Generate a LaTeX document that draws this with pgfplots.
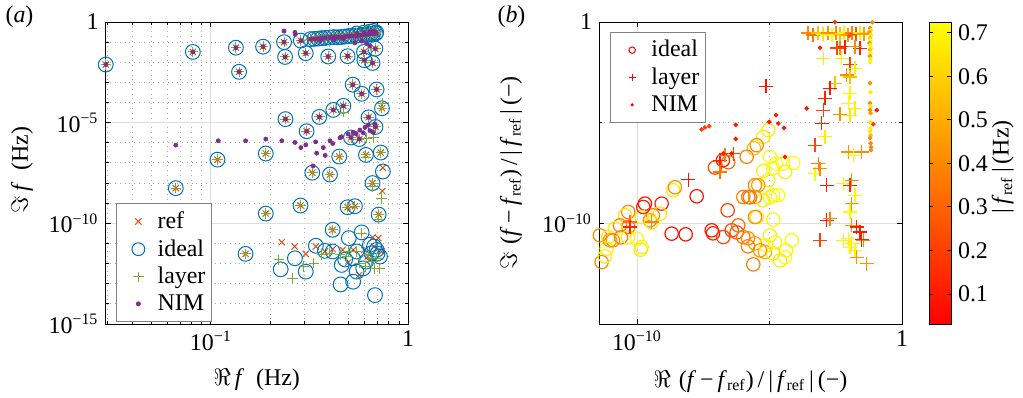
\documentclass[border=0pt]{standalone}
\usepackage{fontspec}
\setmainfont{Liberation Serif}
\usepackage{pgfplots}
\usepackage{pgfplotstable}
\pgfplotsset{compat=1.18}
\definecolor{mblue}{RGB}{0,114,189}
\definecolor{morange}{RGB}{217,83,25}
\definecolor{mgreen}{RGB}{119,172,48}
\definecolor{mpurple}{RGB}{126,47,142}
\definecolor{gridgray}{RGB}{222,222,222}
\definecolor{mingray}{RGB}{170,170,170}
\definecolor{leggray}{RGB}{130,130,130}

% ---------- panel (a) ----------
\pgfplotstableread[row sep=\\]{
x y \\
0.0293 7.7e-3 \\ 0.081 3.27e-2 \\ 0.134 5.3e-2 \\ 0.139 3.35e-3 \\ 0.184 5.96e-2 \\
0.235 0.1 \\ 0.238 1.84e-2 \\ 0.286 0.119 \\ 0.303 2.82e-2 \\ 0.394 1.93e-2 \\
0.494 2.0e-2 \\ 0.598 3.27e-2 \\ 0.683 4.73e-2 \\ 0.601 1.26e-2 \\ 0.661 9.2e-3 \\
0.524 7.7e-4 \\ 0.582 2.72e-4 \\ 0.693 4.47e-4 \\ 0.470 6.8e-5 \\ 0.418 4.3e-5 \\
0.355 1.93e-5 \\ 0.239 1.5e-5 \\ 0.631 1.84e-5 \\ 0.306 3.76e-6 \\ 0.684 6.1e-6 \\
0.514 1.84e-6 \\ 0.566 1.53e-6 \\
0.32 0.141 \\ 0.335 0.145 \\ 0.35 0.15 \\ 0.365 0.158 \\ 0.38 0.162 \\ 0.40 0.17 \\
0.42 0.178 \\ 0.44 0.175 \\ 0.46 0.18 \\ 0.48 0.19 \\ 0.50 0.2 \\ 0.52 0.205 \\
0.545 0.21 \\ 0.57 0.22 \\ 0.595 0.235 \\ 0.62 0.24 \\ 0.645 0.25 \\ 0.665 0.26 \\
0.685 0.27 \\ 0.60 0.3 \\ 0.64 0.33 \\ 0.67 0.36 \\ 0.69 0.3 \\ 0.55 0.27 \\
}\starsA
\pgfplotstableread[row sep=\\]{
x y \\
0.738 5.2e-5 \\ 0.190 2.92e-7 \\ 0.108 1.46e-7 \\ 0.448 2.07e-7 \\ 0.612 2.5e-7 \\
0.728 3.27e-7 \\ 0.327 3.27e-8 \\ 0.402 2.66e-8 \\ 0.661 1e-8 \\ 0.0664 5.6e-9 \\
0.19 3.05e-10 \\ 0.285 7.7e-10 \\ 0.494 6.3e-10 \\ 0.538 7.1e-10 \\ 0.71 2.72e-10 \\
0.415 4.8e-11 \\ 0.15 3.05e-12 \\
}\starsB
\pgfplotstableread[row sep=\\]{
x y \\
0.229 1.16e-11 \\ 0.266 7.1e-12 \\ 0.303 3.05e-12 \\ 0.341 7.1e-12 \\ 0.379 4e-12 \\
0.415 5.2e-12 \\ 0.467 4.8e-12 \\ 0.497 1.12e-12 \\ 0.527 4.8e-12 \\ 0.566 2.72e-13 \\
0.600 4.8e-12 \\ 0.626 2.24e-12 \\ 0.662 2e-11 \\ 0.707 1.84e-11 \\ 0.673 7.1e-12 \\
0.735 4e-12 \\ 0.641 1.53e-12 \\ 0.746 5.8e-8 \\ 0.741 4e-9 \\
}\refonly
\pgfplotstableread[row sep=\\]{
x y \\
0.226 5.2e-13 \\ 0.267 1.84e-12 \\ 0.303 4e-13 \\ 0.341 7.7e-12 \\ 0.379 4.3e-12 \\
0.415 4e-12 \\ 0.461 8.6e-13 \\ 0.455 9.2e-14 \\ 0.501 1.84e-11 \\ 0.527 1.26e-13 \\
0.549 4e-12 \\ 0.582 3.55e-11 \\ 0.593 5.8e-13 \\ 0.612 1.26e-12 \\ 0.641 8.6e-12 \\
0.654 3.27e-12 \\ 0.680 2.72e-14 \\ 0.693 4.8e-12 \\ 0.721 2.24e-12 \\ 0.673 7.1e-12 \\
0.700 3.16e-12 \\ 0.549 4e-13 \\ 0.525 1.84e-12 \\ 0.480 1.6e-12 \\ 0.746 3.76e-8 \\
}\idealonly
\pgfplotstableread[row sep=\\]{
x y \\
0.221 1.53e-12 \\ 0.260 1.84e-13 \\ 0.296 7.1e-13 \\ 0.333 1.04e-12 \\ 0.365 2.72e-12 \\
0.402 3.27e-12 \\ 0.452 2.72e-12 \\ 0.489 2.24e-12 \\ 0.501 4e-12 \\ 0.545 4e-12 \\
0.582 3.27e-11 \\ 0.570 1.04e-12 \\ 0.606 7.1e-13 \\ 0.630 2.72e-12 \\ 0.654 1.26e-12 \\
0.693 1.84e-12 \\ 0.721 5.8e-13 \\ 0.680 5.8e-13 \\ 0.735 1.7e-9 \\
0.74 8.9e-5 \\ 0.47 3.3e-5 \\ 0.617 1.7e-6 \\ 0.667 1.84e-6 \\ 0.612 1.8e-7 \\
0.661 6.8e-9 \\ 0.71 1.6e-10 \\
}\layeronly
\pgfplotstableread[row sep=\\]{
x y \\
0.235 0.355 \\ 0.267 0.305 \\ 0.268 0.243 \\ 0.538 0.092 \\ 0.583 0.112 \\ 0.617 0.086 \\
0.641 0.065 \\ 0.36 0.12 \\ 0.42 0.13 \\ 0.47 0.14 \\
0.0664 7.7e-7 \\ 0.109 1.26e-6 \\ 0.150 1.26e-6 \\ 0.19 1.53e-6 \\ 0.229 1.26e-6 \\
0.267 1.04e-6 \\ 0.286 5.8e-7 \\ 0.303 7.9e-7 \\ 0.34 1.12e-6 \\ 0.344 3.05e-7 \\
0.372 5.8e-7 \\ 0.38 2.37e-7 \\ 0.402 1.26e-6 \\ 0.415 9.2e-7 \\ 0.452 1.78e-6 \\
0.46 2e-6 \\ 0.497 2.72e-6 \\ 0.527 3.27e-6 \\ 0.545 2.82e-6 \\ 0.57 4.3e-6 \\
0.593 3.16e-6 \\ 0.605 5.8e-6 \\ 0.629 7.7e-6 \\ 0.641 4e-6 \\ 0.667 3.27e-6 \\
0.68 8.6e-6 \\ 0.33 7.1e-8 \\
}\nimonly

% ---------- panel (b): x, y, |f_ref| ----------
\pgfplotstableread[row sep=\\]{
x y c \\
9.0e-6 4.24e-6 0.68 \\ 5.83e-6 1.97e-6 0.66 \\ 3.29e-6 7.6e-7 0.40 \\ 2.6e-6 5.38e-7 0.55 \\
1.38e-6 2.03e-7 0.38 \\ 1.04e-5 1.99e-7 0.70 \\ 1.76e-5 9.3e-8 0.72 \\ 3.32e-5 9.3e-8 0.70 \\
7.9e-5 1.0e-7 0.72 \\ 5.83e-6 4.0e-8 0.68 \\ 1.36e-5 5.45e-8 0.70 \\ 3.85e-5 3.56e-8 0.68 \\
8.8e-8 5.9e-8 0.22 \\ 2.79e-7 1.08e-7 0.32 \\ 1.76e-7 1.36e-7 0.10 \\ 9.0e-6 1.38e-8 0.68 \\
2.84e-6 7.8e-9 0.40 \\ 1.03e-6 2.03e-9 0.38 \\ 1.39e-5 2.47e-9 0.70 \\ 1.79e-8 2.2e-9 0.08 \\
2.34e-9 4.38e-9 0.66 \\ 2.72e-9 6.2e-9 0.42 \\ 2.0e-10 9.55e-10 0.08 \\ 8.55e-10 9.55e-10 0.10 \\
7.4e-10 3.04e-10 0.66 \\ 4.0e-10 2.5e-10 0.40 \\ 2.65e-7 4.43e-10 0.20 \\ 1.58e-6 2.03e-9 0.35 \\
2.84e-6 2.03e-9 0.42 \\ 3.29e-6 2.06e-10 0.65 \\ 3.78e-6 7.8e-9 0.45 \\ 2.04e-9 3.08e-11 0.08 \\
6.9e-9 2.84e-11 0.07 \\ 6.6e-8 4.49e-11 0.10 \\ 7.4e-8 3.18e-11 0.12 \\ 1.81e-7 2.08e-11 0.22 \\
3.75e-7 4.49e-11 0.22 \\ 6.65e-7 7.9e-11 0.32 \\ 5.8e-7 3.56e-11 0.25 \\ 1.03e-6 2.08e-11 0.35 \\
1.55e-6 1.8e-11 0.40 \\ 2.45e-6 9.1e-13 0.38 \\ 2.84e-6 1.01e-11 0.45 \\ 6.76e-6 3.73e-12 0.48 \\
1.04e-5 2.53e-11 0.68 \\ 1.61e-5 1.13e-11 0.70 \\ 2.49e-5 1.44e-12 0.66 \\ 3.85e-5 2.1e-12 0.72 \\
6.9e-5 1.43e-11 0.70 \\ 4.2e-5 4.54e-12 0.68 \\ 1.36e-5 3.2e-12 0.66 \\ 2.84e-6 2.06e-10 0.42 \\
1.39e-5 1.53e-10 0.70 \\ 5.69e-6 1.39e-9 0.66 \\ 1.04e-5 1.97e-9 0.70 \\ 2.1e-5 2.47e-9 0.70 \\
1.84e-6 1.97e-9 0.35 \\ 4.7e-11 3.65e-10 0.38 \\ 3.52e-11 2.5e-10 0.65 \\ 3.1e-10 1.41e-10 0.40 \\
4.7e-11 6.55e-11 0.35 \\ 2.28e-11 7.9e-11 0.38 \\ 1.48e-11 5.64e-11 0.68 \\ 4.0e-12 2.53e-11 0.40 \\
8.26e-12 2.08e-11 0.66 \\ 1.24e-11 1.43e-11 0.42 \\ 2.49e-11 2.01e-11 0.35 \\ 4.57e-11 2.01e-11 0.68 \\
9.75e-11 1.73e-11 0.70 \\ 1.5e-10 6.6e-12 0.68 \\ 4.66e-12 1.19e-12 0.40 \\ 7.2e-12 5.5e-12 0.66 \\
6.2e-12 2.28e-12 0.68 \\ 9.57e-12 1.43e-11 0.45 \\ 1.38e-10 4.92e-12 0.66 \\ 1.5e-10 2.06e-10 0.66 \\
3.59e-10 1.12e-10 0.68 \\ 1.73e-10 6.47e-10 0.10 \\ 7.4e-6 8.0e-12 0.70 \\ 4.39e-6 4.54e-12 0.45 \\
1.55e-6 7.2e-12 0.38 \\
}\idealB
\pgfplotstableread[row sep=\\]{
x y c \\
8.6e-9 1.46e-8 0.08 \\ 1.36e-7 1.36e-7 0.10 \\ 1.36e-7 3.56e-8 0.35 \\ 2.09e-7 2.42e-7 0.38 \\
4.3e-7 2.94e-7 0.20 \\ 5.45e-11 1.16e-10 0.35 \\ 5.45e-11 6.55e-11 0.12 \\ 3.59e-10 1.16e-10 0.38 \\
7.4e-6 6.3e-4 0.08 \\
2.84e-4 0.284 0.40 \\ 4.39e-4 0.225 0.35 \\ 6.76e-4 0.284 0.55 \\ 1.04e-3 0.253 0.65 \\
1.61e-3 0.284 0.42 \\ 2.28e-3 0.225 0.70 \\ 3.23e-3 0.284 0.40 \\ 4.57e-3 0.253 0.55 \\
6.47e-3 0.284 0.68 \\ 9.16e-3 0.225 0.45 \\ 1.3e-2 0.284 0.38 \\ 1.84e-2 0.253 0.25 \\
2.6e-2 0.284 0.66 \\ 3.68e-2 0.253 0.45 \\
4.57e-3 0.0492 0.40 \\ 7.06e-3 0.059 0.10 \\ 3.52e-3 0.0508 0.22 \\ 2.6e-2 0.0492 0.12 \\
1.68e-2 0.059 0.40 \\ 1.07e-3 0.0156 0.68 \\ 5.3e-3 0.0156 0.66 \\ 1.09e-2 7.87e-3 0.22 \\
1.68e-2 4.97e-3 0.68 \\ 8.18e-3 2.31e-3 0.40 \\ 1.09e-2 1.84e-3 0.55 \\ 2.97e-3 8.9e-4 0.55 \\
1.92e-3 5.03e-4 0.10 \\ 1.24e-3 1.6e-4 0.12 \\ 1.09e-2 2.84e-4 0.70 \\ 9.42e-3 9.0e-5 0.70 \\
1.68e-2 5.08e-5 0.68 \\ 1.07e-3 4.19e-5 0.20 \\ 4.57e-3 2.56e-5 0.42 \\ 1.09e-2 2.36e-5 0.66 \\
9.33e-4 9.1e-6 0.10 \\ 1.24e-3 1.97e-6 0.68 \\ 5.2e-4 7.6e-7 0.22 \\ 9.42e-3 3.52e-7 0.42 \\
1.45e-2 2.42e-7 0.70 \\ 3.01e-2 3.52e-7 0.40 \\ 6.95e-4 9.3e-8 0.38 \\ 5.2e-4 2.97e-8 0.70 \\
8.05e-4 5.26e-8 0.40 \\ 1.44e-3 7.8e-9 0.10 \\ 6.1e-3 9.4e-9 0.70 \\ 1.09e-2 7.8e-9 0.12 \\
1.26e-2 1.38e-8 0.40 \\ 1.68e-2 2.47e-9 0.70 \\ 1.26e-2 9.55e-10 0.40 \\ 1.09e-2 3.65e-10 0.70 \\
1.44e-3 1.41e-10 0.10 \\ 1.92e-3 1.71e-10 0.38 \\ 1.26e-2 7.9e-11 0.42 \\ 1.95e-2 6.55e-11 0.12 \\
2.6e-2 3.69e-11 0.10 \\ 3.47e-2 1.43e-11 0.38 \\ 8.05e-4 1.43e-11 0.20 \\ 6.1e-3 1.43e-11 0.68 \\
9.42e-3 1.73e-11 0.70 \\ 1.26e-2 1.01e-11 0.66 \\ 1.68e-2 4.54e-12 0.70 \\ 1.95e-2 2.1e-12 0.42 \\
4.66e-2 9.9e-13 0.42 \\ 3.01e-2 1.55e-11 0.10 \\ 1.09e-2 6.6e-12 0.70 \\
}\layerB
\pgfplotstableread[row sep=\\]{
x y c \\
2.77e-8 4.59e-6 0.20 \\ 3.68e-8 5.77e-6 0.20 \\ 5.35e-8 6.7e-6 0.22 \\ 5.31e-7 7.78e-6 0.10 \\
5.31e-7 1.56e-6 0.08 \\ 1.81e-7 2.94e-7 0.10 \\ 3.75e-7 2.94e-7 0.08 \\ 9.8e-6 1.1e-5 0.08 \\
2.15e-5 9.1e-6 0.10 \\ 3.52e-5 5.5e-6 0.08 \\ 1.76e-5 2.36e-5 0.10 \\ 2.54e-4 5.08e-5 0.08 \\
8.05e-4 0.0526 0.10 \\ 2.97e-3 0.99 0.20 \\ 1.03e-2 0.208 0.25 \\ 7.57e-2 0.97 0.40 \\
3.85e-5 1.99e-7 0.10 \\
6.2e-2 0.503 0.40 \\ 6.76e-2 0.40 0.65 \\ 5.9e-2 0.318 0.45 \\ 6.76e-2 0.225 0.68 \\
6.2e-2 0.16 0.55 \\ 6.5e-2 0.127 0.70 \\ 5.9e-2 0.0902 0.40 \\ 6.2e-2 0.0717 0.68 \\
6.76e-2 0.0508 0.70 \\ 6.2e-2 0.0404 0.55 \\ 6.5e-2 0.0287 0.70 \\ 6.2e-2 0.0203 0.42 \\
6.5e-2 0.0144 0.68 \\ 6.2e-2 0.0102 0.70 \\ 6.2e-2 9.2e-4 0.42 \\ 6.5e-2 3.29e-4 0.68 \\
6.2e-2 9.3e-5 0.42 \\ 6.5e-2 6.6e-5 0.66 \\ 6.2e-2 4.19e-5 0.40 \\ 0.111 4.19e-5 0.10 \\
6.5e-2 2.97e-5 0.45 \\ 6.2e-2 1.06e-5 0.68 \\ 8.26e-2 8.4e-6 0.20 \\ 6.5e-2 5.3e-6 0.70 \\
6.2e-2 3.78e-6 0.66 \\ 6.5e-2 2.39e-6 0.55 \\ 6.2e-2 1.7e-6 0.42 \\ 6.5e-2 9.5e-7 0.40 \\
6.76e-2 6.0e-7 0.38 \\ 6.76e-2 4.29e-7 0.40 \\
}\nimB

\begin{document}
\begin{tikzpicture}[font=\fontsize{12}{14}\selectfont]
\path[use as bounding box] (0,0) rectangle (511.5bp,199bp);
\node at (9.75bp,190.7bp) {(\textit{a})};
\node at (255.75bp,190.7bp) {(\textit{b})};

\begin{axis}[
  scale only axis, xmode=log, ymode=log, clip=false,
  axis line style={black, line width=0.45bp},
  every tick/.style={black, line width=0.45bp},
  major tick length=2.6bp, minor tick length=1.6bp,
  tick align=inside,
  grid=both,
  major grid style={gridgray, line width=0.45bp},
  minor grid style={mingray, dotted, line width=0.45bp},
  at={(52.75bp,37bp)}, anchor=south west, width=151.25bp, height=151bp,
  xmin=0.0292, xmax=1, ymin=1e-15, ymax=1,
  xtick={0.1,1}, xticklabels={10\textsuperscript{−1},1},
  minor xtick={0.03,0.04,0.05,0.06,0.07,0.08,0.09,0.2,0.3,0.4,0.5,0.6,0.7,0.8,0.9},
  ytick={1e-15,1e-10,1e-5,1},
  yticklabels={10\textsuperscript{−15},10\textsuperscript{−10},10\textsuperscript{−5},1},
  minor ytick={1e-14,1e-13,1e-12,1e-11,1e-9,1e-8,1e-7,1e-6,1e-4,1e-3,1e-2,1e-1},
  xlabel={$\Re$\,\textit{f}\,\,\,(Hz)},
  ylabel={$\Im$\,\textit{f}\,\,\,(Hz)},
  xlabel style={at={(axis description cs:0.5,-0.185)}, anchor=center},
  ylabel style={at={(axis description cs:-0.276,0.51)}, anchor=center},
  legend cell align=left,
  legend style={at={(0.035,0.40)}, anchor=north west, draw=leggray, line width=0.45bp,
    fill=white, row sep=0pt, inner xsep=1pt, inner ysep=2pt,
    font=\fontsize{12}{14}\selectfont},
]
\addplot[only marks, mark=x, mark size=2.2bp, color=morange, line width=0.5bp, forget plot] table {\starsA};
\addplot[only marks, mark=x, mark size=2.2bp, color=morange, line width=0.5bp, forget plot] table {\starsB};
\addplot[only marks, mark=x, mark size=2.2bp, color=morange, line width=0.5bp, forget plot] table {\refonly};
\addplot[only marks, mark=o, mark size=3.7bp, color=mblue, line width=0.5bp, forget plot] table {\starsA};
\addplot[only marks, mark=o, mark size=3.7bp, color=mblue, line width=0.5bp, forget plot] table {\starsB};
\addplot[only marks, mark=o, mark size=3.7bp, color=mblue, line width=0.5bp, forget plot] table {\idealonly};
\addplot[only marks, mark=+, mark size=2.6bp, color=mgreen, line width=0.5bp, forget plot] table {\starsA};
\addplot[only marks, mark=+, mark size=2.6bp, color=mgreen, line width=0.5bp, forget plot] table {\starsB};
\addplot[only marks, mark=+, mark size=2.6bp, color=mgreen, line width=0.5bp, forget plot] table {\layeronly};
\addplot[only marks, mark=*, mark size=1.0bp, color=mpurple, forget plot] table {\starsA};
\addplot[only marks, mark=*, mark size=1.0bp, color=mpurple, forget plot] table {\nimonly};
\addlegendimage{legend image code/.code={\path[draw=none, fill=none] (0cm,-0.1cm) rectangle (0.62cm,0.1cm);
  \draw[morange, line width=0.5bp, mark size=2.2bp] plot[mark=x] coordinates {(0.35cm,0cm)};}}
\addlegendentry{ref}
\addlegendimage{legend image code/.code={\path[draw=none, fill=none] (0cm,-0.1cm) rectangle (0.62cm,0.1cm);
  \draw[mblue, line width=0.5bp, mark size=3.2bp] plot[mark=o] coordinates {(0.35cm,0cm)};}}
\addlegendentry{ideal}
\addlegendimage{legend image code/.code={\path[draw=none, fill=none] (0cm,-0.1cm) rectangle (0.62cm,0.1cm);
  \draw[mgreen, line width=0.5bp, mark size=2.6bp] plot[mark=+] coordinates {(0.35cm,0cm)};}}
\addlegendentry{layer}
\addlegendimage{legend image code/.code={\path[draw=none, fill=none] (0cm,-0.1cm) rectangle (0.62cm,0.1cm);
  \draw[mpurple, fill=mpurple, mark size=1.0bp] plot[mark=*] coordinates {(0.35cm,0cm)};}}
\addlegendentry{NIM}
\end{axis}

\begin{axis}[
  scale only axis, xmode=log, ymode=log, clip=false,
  axis line style={black, line width=0.45bp},
  every tick/.style={black, line width=0.45bp},
  major tick length=2.6bp, minor tick length=1.6bp,
  tick align=inside,
  grid=both,
  major grid style={gridgray, line width=0.45bp},
  minor grid style={mingray, dotted, line width=0.45bp},
  at={(299.5bp,37bp)}, anchor=south west, width=151.5bp, height=151bp,
  xmin=3.7e-12, xmax=1, ymin=1e-15, ymax=1,
  xtick={1e-10,1}, xticklabels={10\textsuperscript{−10},1}, minor xtick={1e-5},
  ytick={1e-10,1}, yticklabels={10\textsuperscript{−10},1}, minor ytick={1e-5},
  xlabel={$\Re$\,\,(\textit{f}\,−\,\textit{f}\textsubscript{ref})\,/\,|\,\textit{f}\textsubscript{ref}\,|\,(−)},
  ylabel={$\Im$\,\,(\textit{f}\,−\,\textit{f}\textsubscript{ref})\,/\,|\,\textit{f}\textsubscript{ref}\,|\,(−)},
  xlabel style={at={(axis description cs:0.5,-0.19)}, anchor=center},
  ylabel style={at={(axis description cs:-0.29,0.5)}, anchor=center},
  colormap={autumn}{rgb=(1,0,0) rgb=(1,1,0)},
  point meta min=0.031, point meta max=0.725,
  colorbar,
  colorbar style={
    at={(parent axis.north east)}, anchor=north west, xshift=5bp,
    width=11bp, height=151bp,
    axis line style={black, line width=0.45bp},
    ytick={0.1,0.2,0.3,0.4,0.5,0.6,0.7},
    yticklabels={0.1,0.2,0.3,0.4,0.5,0.6,0.7},
    major tick length=2bp,
    ylabel={|\,\textit{f}\textsubscript{ref}\,|\,(Hz)},
    ylabel style={at={(axis description cs:3.35,0.52)}, anchor=center},
  },
  legend cell align=left,
  legend style={at={(0.036,0.967)}, anchor=north west, draw=leggray, line width=0.45bp,
    fill=white, row sep=0pt, inner xsep=1pt, inner ysep=2pt,
    font=\fontsize{12}{14}\selectfont},
]
\addplot[scatter, only marks, mark=o, mark size=3.35bp, line width=0.6bp,
  scatter src=explicit, scatter/use mapped color={draw=mapped color}, forget plot]
  table[x=x, y=y, meta=c] {\idealB};
\addplot[scatter, only marks, mark=+, mark size=3.5bp, line width=0.6bp,
  scatter src=explicit, scatter/use mapped color={draw=mapped color}, forget plot]
  table[x=x, y=y, meta=c] {\layerB};
\addplot[scatter, only marks, mark=*, mark size=0.95bp,
  scatter src=explicit, scatter/use mapped color={draw=mapped color, fill=mapped color}, forget plot]
  table[x=x, y=y, meta=c] {\nimB};
\addlegendimage{legend image code/.code={\path[draw=none, fill=none] (0cm,-0.1cm) rectangle (0.62cm,0.1cm);
  \draw[red, line width=0.5bp, mark size=1.6bp] plot[mark=o] coordinates {(0.35cm,0cm)};}}
\addlegendentry{ideal}
\addlegendimage{legend image code/.code={\path[draw=none, fill=none] (0cm,-0.1cm) rectangle (0.62cm,0.1cm);
  \draw[red, line width=0.5bp, mark size=1.7bp] plot[mark=+] coordinates {(0.35cm,0cm)};}}
\addlegendentry{layer}
\addlegendimage{legend image code/.code={\path[draw=none, fill=none] (0cm,-0.1cm) rectangle (0.62cm,0.1cm);
  \draw[red, fill=red, mark size=0.55bp] plot[mark=*] coordinates {(0.35cm,0cm)};}}
\addlegendentry{NIM}
\end{axis}
\end{tikzpicture}
\end{document}
